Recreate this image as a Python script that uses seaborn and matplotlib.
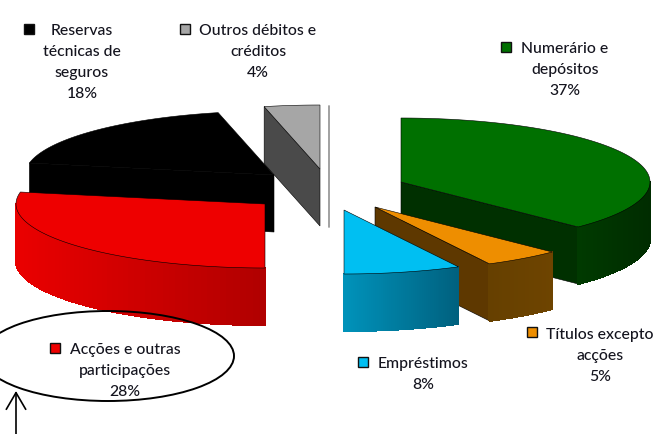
import numpy as np
import seaborn as sns
import matplotlib
matplotlib.use("Agg")
import matplotlib.pyplot as plt
from matplotlib.colors import to_rgb
from matplotlib.patches import Ellipse

# ---- data (clockwise from 12 o'clock) ----
categories = ["Numerário e\ndepósitos", "Títulos excepto\nacções", "Empréstimos",
              "Acções e outras\nparticipações", "Reservas\ntécnicas de\nseguros",
              "Outros débitos e\ncréditos"]
shares = [37.4, 5.0, 7.6, 28.0, 18.4, 3.6]

# ---- styles ----
top_colors = ["#007000", "#EE8E00", "#00BFF2", "#EE0000", "#000000", "#A6A6A6"]
cut_colors = ["#003000", "#5E3800", "#0090B8", "#B00000", "#000000", "#4A4A4A"]
wall_left = ["#003A00", "#664000", "#0092BA", "#EA0000", "#000000", "#4A4A4A"]
wall_right = ["#002C00", "#6E4400", "#00607E", "#B00000", "#000000", "#4A4A4A"]
swatch_colors = ["#007000", "#EE8E00", "#00BFF2", "#EE0000", "#000000", "#A6A6A6"]

# ---- layout in pixels ----
W, H = 659, 435
RX, RY, DEPTH = 249, 64, 57
centers = [(401, 183), (375, 208), (344, 211), (265, 205), (274, 176), (320, 170)]
draw_order = [5, 4, 3, 0, 1, 2]
label_xy = [(565, 49), (600, 335), (423, 364), (125, 350), (82, 31), (258, 31)]
swatch_xy = [(506, 48), (532, 333), (363, 363), (55, 349), (29, 30), (185, 30)]
LINE = 20.9

sns.set_theme(style="white")
plt.rcParams["font.family"] = ["Lato", "DejaVu Sans"]
fig, ax = plt.subplots(figsize=(W / 100, H / 100), dpi=100)
ax.set_position([0, 0, 1, 1])
ax.set_xlim(0, W)
ax.set_ylim(H, 0)
ax.set_axis_off()
sns.despine(ax=ax, left=True, bottom=True)

edges = np.cumsum([0] + shares) / sum(shares) * 2 * np.pi


def rim(c, a):
    return c[0] + RX * np.sin(a), c[1] - RY * np.cos(a)


def mix(c1, c2, t):
    a, b = np.array(to_rgb(c1)), np.array(to_rgb(c2))
    return tuple(a + (b - a) * t)


def cut_face(c, a, color):
    x, y = rim(c, a)
    ax.fill([c[0], x, x, c[0]], [c[1], y, y + DEPTH, c[1] + DEPTH],
            facecolor=color, edgecolor="#000000", linewidth=0.4, zorder=z)


z = 1
for i in draw_order:
    a0, a1 = edges[i], edges[i + 1]
    c = centers[i]
    # cut faces turned to the viewer
    if np.sin(a0) < -1e-9:
        cut_face(c, a0, cut_colors[i])
    if np.sin(a1) > 1e-9:
        cut_face(c, a1, cut_colors[i])
    # outer wall, front half only, shaded left to right
    w0, w1 = max(a0, np.pi / 2), min(a1, 1.5 * np.pi)
    if w1 > w0:
        ang = np.linspace(w0, w1, 60)
        xs, ys = rim(c, ang)
        xmin, xmax = xs.min(), xs.max()
        for k in range(len(ang) - 1):
            t = ((xs[k] + xs[k + 1]) / 2 - xmin) / max(xmax - xmin, 1)
            col = mix(wall_left[i], wall_right[i], t)
            ax.fill([xs[k], xs[k + 1], xs[k + 1], xs[k]],
                    [ys[k], ys[k + 1], ys[k + 1] + DEPTH, ys[k] + DEPTH],
                    facecolor=col, edgecolor=col, linewidth=0.8, antialiased=False, zorder=z)
    # top face
    ang = np.linspace(a0, a1, 120)
    xs, ys = rim(c, ang)
    ax.fill(np.r_[c[0], xs], np.r_[c[1], ys], facecolor=top_colors[i],
            edgecolor="#000000", linewidth=0.4, zorder=z + 0.5)
    z += 1

# edge-on closing face of the last slice
ax.plot([329, 329], [107, 228], color="#9A9A9A", lw=1.3, zorder=z)

# labels with their swatches
for i, name in enumerate(categories):
    lines = name.split("\n") + [f"{round(shares[i])}%"]
    for j, line in enumerate(lines):
        ax.text(label_xy[i][0], label_xy[i][1] + j * LINE, line, ha="center", va="center",
                fontsize=11.3, color="#14141E", fontweight="medium", zorder=20)
    sx, sy = swatch_xy[i]
    ax.fill([sx - 5, sx + 5, sx + 5, sx - 5], [sy - 5, sy - 5, sy + 5, sy + 5],
            facecolor=swatch_colors[i], edgecolor="#111111", linewidth=1.0, zorder=20)

# hand-drawn annotation
ax.add_patch(Ellipse((108, 357), 252, 90, fill=False, edgecolor="black", linewidth=1.4,
                     zorder=21, clip_on=True))
ax.annotate("", xy=(16, 392), xytext=(16, 436),
            arrowprops=dict(arrowstyle="->,head_length=0.6,head_width=0.35", color="black",
                            lw=1.2, shrinkA=0, shrinkB=0, mutation_scale=20), zorder=21)

fig.savefig("out.png", dpi=100, facecolor="white")
